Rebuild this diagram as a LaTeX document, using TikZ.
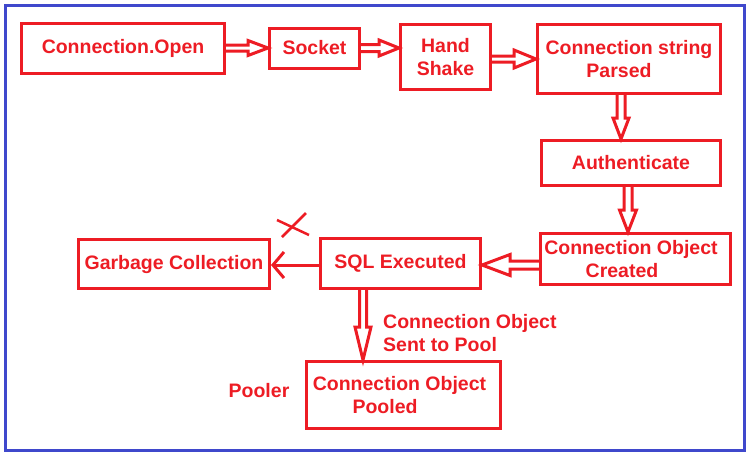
\documentclass[tikz,border=0pt]{standalone}
\usepackage{fontspec}
\setmainfont{Liberation Sans}
\usetikzlibrary{calc,arrows.meta}
\definecolor{pred}{RGB}{237,28,36}
\definecolor{pblue}{RGB}{63,72,204}
% #1 from, #2 to, #3 head length, #4 shaft half width, #5 head half width
\newcommand\hollowarr[5]{%
  \draw[hollow] ($(#1)!#4pt!90:(#2)$)
    -- ($(#2)!#3pt!(#1)!#4pt!90:(#2)$)
    -- ($(#2)!#3pt!(#1)!#5pt!90:(#2)$)
    -- (#2)
    -- ($(#2)!#3pt!(#1)!#5pt!-90:(#2)$)
    -- ($(#2)!#3pt!(#1)!#4pt!-90:(#2)$)
    -- ($(#1)!#4pt!-90:(#2)$);}
\begin{document}
\begin{tikzpicture}[x=1pt,y=-1pt,
  txt/.style={text=pred, font=\bfseries\fontsize{19.5}{23.5}\selectfont, inner sep=0pt},
  box/.style={txt, draw=pred, line width=3pt, align=center, rectangle},
  hollow/.style={draw=pred, line width=3pt, line join=miter},
  thinarr/.style={draw=pred, line width=3pt, -{Straight Barb[length=11pt,width=26pt]}},
  crossline/.style={draw=pred, line width=2.5pt}]
\useasboundingbox (0,0) rectangle (753,459);
\draw[pblue, line width=3pt] (5.3,5) rectangle (744.5,450);

\node[box, minimum width=203pt, minimum height=50pt] (open) at (123,48) {Connection.Open};
\node[box, minimum width=90pt, minimum height=40pt] (socket) at (314.5,48) {Socket};
\node[box, minimum width=90pt, minimum height=65pt] (hand) at (445.5,57) {Hand\\Shake};
\node[box, minimum width=183pt, minimum height=69pt] (cs) at (629,59) {Connection string\\Parsed\hspace{20pt}\null};
\node[box, minimum width=179pt, minimum height=45pt] (auth) at (631,163) {Authenticate};
\node[box, minimum width=190pt, minimum height=51pt] (created) at (635.5,259) {Connection Object\hspace{9pt}\null\\Created\hspace{27pt}\null};
\node[box, minimum width=160pt, minimum height=50pt] (sql) at (400.5,263.5) {SQL Executed};
\node[box, minimum width=191pt, minimum height=49pt] (gc) at (174,264) {Garbage Collection};
\node[box, minimum width=194pt, minimum height=67pt] (pooled) at (403.5,395) {Connection Object\hspace{8pt}\null\\Pooled\hspace{37pt}\null};

\node[txt, align=left, anchor=west] (sent) at (383,333) {Connection Object\\Sent to Pool};
\node[txt] (pooler) at (259,391) {Pooler};

\hollowarr{open.east}{socket.west}{20}{3}{7.5}
\hollowarr{socket.east}{[yshift=9pt]hand.west}{20}{3.5}{8}
\hollowarr{[yshift=-2pt]hand.east}{cs.west}{22}{3}{9}
\hollowarr{[xshift=-8pt]cs.south}{[xshift=-10pt]auth.north}{21}{4}{8}
\hollowarr{[xshift=-3pt]auth.south}{[xshift=-7.5pt]created.north}{22}{4}{8.5}
\hollowarr{[yshift=-6pt]created.west}{[yshift=-1.5pt]sql.east}{28}{4}{10.5}
\hollowarr{[xshift=-37.5pt]sql.south}{[xshift=-40.5pt]pooled.north}{33}{3.5}{8}

\draw[thinarr] ([yshift=-1.5pt]sql.west) -- ([yshift=-1pt]gc.east);

\draw[crossline] (277,220) -- (309,235);
\draw[crossline] (282,237) -- (306,213);
\end{tikzpicture}
\end{document}
